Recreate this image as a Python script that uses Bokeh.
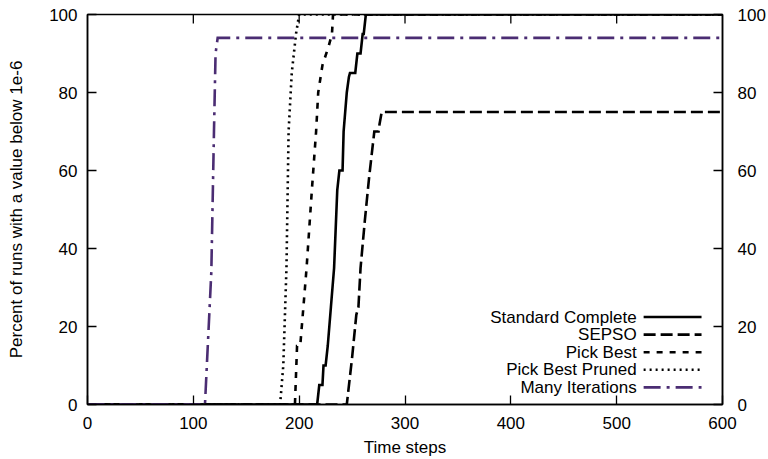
from bokeh.plotting import figure
from bokeh.models import LinearAxis, FixedTicker, Label, Arrow, Range1d
from bokeh.embed import file_html
from bokeh.resources import INLINE

# ---------------- data ----------------
sc_x = [0, 217, 219, 222, 223, 225, 227, 230, 233, 236, 238, 241, 242, 245, 247, 248, 253, 255, 258, 260, 261, 263, 600]
sc_y = [0, 0, 5, 5, 10, 10, 15, 25, 35, 55, 60, 60, 70, 80, 84, 85, 85, 90, 90, 95, 95, 100, 100]

sepso_x = [0, 245, 250, 254, 256, 258, 262, 266, 271, 275, 276, 278, 600]
sepso_y = [0, 0, 12, 23, 25, 35, 47, 58, 70, 70, 72, 75, 75]

pb_x = [0, 196, 198, 201, 204, 207, 212, 216, 218, 222, 228, 231, 232, 600]
pb_y = [0, 0, 15, 15, 25, 35, 55, 70, 80, 87, 92, 95, 100, 100]

pbp_x = [0, 182, 185, 188, 190, 193, 197, 200, 600]
pbp_y = [0, 0, 10, 35, 70, 85, 95, 100, 100]

mi_x = [0, 111, 117, 119.5, 121, 123, 600]
mi_y = [0, 0, 34, 70, 90, 94, 94]

series_names = ["Standard Complete", "SEPSO", "Pick Best", "Pick Best Pruned", "Many Iterations"]
x_ticks = [0, 100, 200, 300, 400, 500, 600]
y_ticks = [0, 20, 40, 60, 80, 100]
x_title = "Time steps"
y_title = "Percent of runs with a value below 1e-6"

# ---------------- styling ----------------
FONT = "Liberation Sans"
FS = "17px"
PURPLE = "#4b2d73"
styles = [
    dict(line_color="black", line_width=2.6, line_dash="solid"),
    dict(line_color="black", line_width=2.6, line_dash="12 5"),
    dict(line_color="black", line_width=2.6, line_dash="6 7"),
    dict(line_color="black", line_width=2.6, line_dash="2 4"),
    dict(line_color=PURPLE, line_width=2.6, line_dash="17 6 3 6"),
]

W, H = 768, 459
L, R, T, B = 87, 45, 14, 55
TICK = 9

p = figure(width=W, height=H, output_backend="svg", toolbar_location=None,
           x_range=Range1d(0, 600), y_range=Range1d(0, 100),
           min_border_left=L, min_border_right=R, min_border_top=T, min_border_bottom=B,
           x_axis_label=x_title, y_axis_label=y_title)
p.xgrid.visible = False
p.ygrid.visible = False
p.outline_line_color = "black"
p.outline_line_width = 1.5
p.background_fill_color = "white"
p.border_fill_color = "white"

def style_axis(ax, ticks, standoff):
    ax.ticker = FixedTicker(ticks=ticks)
    ax.major_tick_in = TICK
    ax.major_tick_out = 0
    ax.minor_tick_in = 0
    ax.minor_tick_out = 0
    ax.major_tick_line_width = 1.3
    ax.major_tick_line_color = "black"
    ax.axis_line_width = 1.5
    ax.major_label_text_font = FONT
    ax.major_label_text_font_size = FS
    ax.major_label_text_color = "black"
    ax.major_label_standoff = standoff
    ax.axis_label_text_font = FONT
    ax.axis_label_text_font_size = FS
    ax.axis_label_text_font_style = "normal"
    ax.axis_label_text_color = "black"

style_axis(p.xaxis[0], x_ticks, 12)
p.xaxis[0].axis_label_standoff = 6
style_axis(p.yaxis[0], y_ticks, 10)
p.yaxis[0].axis_label_standoff = 20

right = LinearAxis()
style_axis(right, y_ticks, 15)
p.add_layout(right, "right")

xs = [sc_x, sepso_x, pb_x, pbp_x, mi_x]
ys = [sc_y, sepso_y, pb_y, pbp_y, mi_y]
for x, y, st in zip(xs, ys, styles):
    p.line(x, y, line_join="miter", **st)

fw, fh = W - L - R, H - T - B
def px2x(px):
    return (px - L) / fw * 600.0
def py2y(py):
    return (T + fh - py) / fh * 100.0

# mirrored inward ticks on the top border (gnuplot style)
for t in x_ticks[1:-1]:
    p.add_layout(Arrow(end=None, x_start=t, y_start=100, x_end=t,
                       y_end=100 - TICK / fh * 100.0,
                       line_color="black", line_width=1.3))

# ---------------- legend (gnuplot style: text right-aligned, sample at right) ----------------
text_right = 637
samp_x0, samp_x1 = 644, 702
row0, row_step = 316.5, 17.6
for i, (name, st) in enumerate(zip(series_names, styles)):
    py = row0 + i * row_step
    p.add_layout(Label(x=px2x(text_right), y=py2y(py), text=name, text_align="right",
                       text_baseline="middle", text_font=FONT, text_font_size=FS,
                       text_color="black"))
    p.add_layout(Arrow(end=None, x_start=px2x(samp_x0), y_start=py2y(py),
                       x_end=px2x(samp_x1), y_end=py2y(py), **st))

open("out.html", "w").write(file_html(p, INLINE))
